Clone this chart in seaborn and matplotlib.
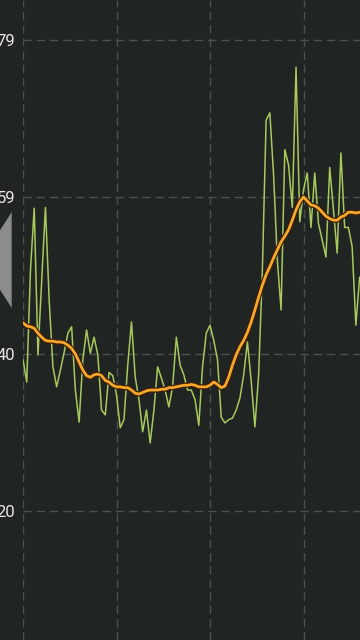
import numpy as np
import pandas as pd
import matplotlib
matplotlib.use("Agg")
import matplotlib.pyplot as plt
import matplotlib.patheffects as pe
from matplotlib.patches import Polygon
from matplotlib.ticker import FixedLocator, FuncFormatter
import seaborn as sns

# ---- data ----
raw_values = [39.0, 36.2, 50.2, 57.9, 39.6, 48.9, 58.0, 46.4, 38.1, 35.6,
              37.7, 39.9, 42.3, 43.1, 35.2, 31.2, 39.0, 42.7, 39.8, 41.8,
              39.6, 32.7, 32.1, 37.4, 37.0, 34.6, 30.5, 31.5, 38.3, 43.7,
              36.8, 34.0, 30.0, 32.7, 28.6, 32.7, 38.1, 36.7, 35.2, 33.1,
              35.6, 41.8, 38.3, 37.1, 35.2, 35.2, 34.0, 30.8, 38.1, 42.3,
              43.3, 41.4, 39.0, 31.8, 31.1, 31.5, 31.7, 32.7, 34.2, 37.1,
              41.2, 36.4, 30.6, 37.1, 50.2, 68.9, 69.8, 62.0, 51.4, 45.2,
              65.2, 63.3, 58.0, 75.5, 56.2, 60.2, 62.3, 55.5, 62.3, 56.0,
              53.9, 51.8, 63.0, 57.7, 52.3, 64.8, 55.5, 55.5, 53.1, 43.3,
              49.3]
smooth_values = [43.6, 43.2, 43.1, 42.9, 42.3, 41.8, 41.4, 41.3, 41.3, 41.2,
                 41.2, 41.1, 40.8, 40.4, 39.7, 38.7, 37.7, 37.0, 36.8, 37.1,
                 37.2, 37.0, 36.4, 36.2, 35.8, 35.6, 35.6, 35.5, 35.5, 35.2,
                 34.8, 34.7, 34.9, 35.1, 35.2, 35.2, 35.2, 35.3, 35.3, 35.5,
                 35.5, 35.6, 35.7, 35.8, 35.8, 35.9, 35.8, 35.6, 35.6, 35.6,
                 35.8, 36.2, 35.9, 35.5, 35.7, 36.8, 38.3, 39.6, 40.6, 41.4,
                 42.4, 43.7, 45.2, 46.8, 48.3, 49.6, 50.6, 51.7, 52.7, 53.7,
                 54.4, 55.2, 56.4, 57.7, 58.7, 59.3, 58.8, 58.3, 58.2, 57.9,
                 57.4, 56.9, 56.6, 56.4, 56.4, 56.8, 57.0, 57.4, 57.4, 57.3,
                 57.4]
x_index = list(range(len(raw_values)))
x_ticks = [0, 25, 50, 75]
y_ticks = [20.1, 39.7, 59.3, 78.9]
y_tick_labels = ["20", "40", "59", "79"]

df = pd.DataFrame({"t": x_index, "raw": raw_values, "smooth": smooth_values})

BG = "#202423"
sns.set_style("dark", {"axes.facecolor": BG, "figure.facecolor": BG})
plt.rcParams["font.family"] = ["Roboto", "DejaVu Sans"]

fig = plt.figure(figsize=(3.6, 6.4), dpi=100)
fig.patch.set_facecolor(BG)
ax = fig.add_axes([23 / 360, 0.0, 1 - 23 / 360, 1.0])
ax.set_facecolor(BG)

sns.lineplot(data=df, x="t", y="raw", ax=ax, color="#a8c95c", linewidth=1.1,
             zorder=3)
sns.lineplot(data=df, x="t", y="smooth", ax=ax, color="#f6a82a", linewidth=2.0,
             zorder=4,
             path_effects=[pe.Stroke(linewidth=3.8, foreground="#3e1d08"),
                           pe.Normal()])

ax.set_xlim(0, 90.1)
ax.set_ylim(4.0, 83.89)
ax.xaxis.set_major_locator(FixedLocator(x_ticks))
ax.yaxis.set_major_locator(FixedLocator(y_ticks))
ax.yaxis.set_major_formatter(FuncFormatter(
    lambda v, p: y_tick_labels[y_ticks.index(v)] if v in y_ticks else ""))
ax.grid(True, color="#4c504f", linestyle=(0, (6, 3.5)), linewidth=1.0,
        zorder=1)
ax.set_axisbelow(True)
ax.tick_params(axis="y", length=0, pad=5.5, labelsize=12, labelcolor="#e6e6e6")
ax.tick_params(axis="x", length=0, labelbottom=False)
ax.set_xlabel("")
ax.set_ylabel("")
for s in ax.spines.values():
    s.set_visible(False)

# grey side handle (UI decoration)
tri = Polygon([[11.7 / 360, 1 - 212 / 640], [11.7 / 360, 1 - 308 / 640],
               [-19 / 360, 1 - 260 / 640]], closed=True,
              transform=fig.transFigure, facecolor="#8c8c8c", edgecolor="none",
              zorder=10)
fig.patches.append(tri)

fig.savefig("out.png", dpi=100, facecolor=BG)
